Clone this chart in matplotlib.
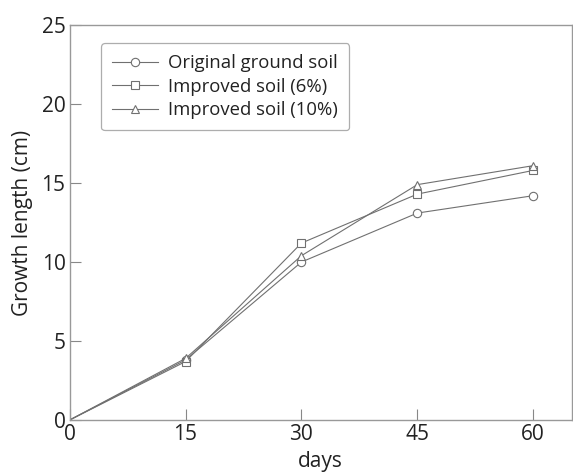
import matplotlib
matplotlib.use("Agg")
import matplotlib.pyplot as plt

days = [0, 15, 30, 45, 60]
original = [0, 3.8, 10.0, 13.1, 14.2]
improved_6 = [0, 3.7, 11.2, 14.3, 15.8]
improved_10 = [0, 3.9, 10.4, 14.9, 16.1]

plt.rcParams['font.family'] = ['Open Sans', 'DejaVu Sans']

fig = plt.figure(figsize=(5.73, 4.73), dpi=100)
ax = fig.add_axes([0.1215, 0.112, 0.8765, 0.835])

# no marker at the origin, only the measured days
style = dict(color='#707070', lw=0.8, markersize=6, markerfacecolor='white',
             markeredgecolor='#707070', markeredgewidth=0.8, markevery=[1, 2, 3, 4])
ax.plot(days, original, marker='o', label='Original ground soil', **style)
ax.plot(days, improved_6, marker='s', label='Improved soil (6%)', **style)
ax.plot(days, improved_10, marker='^', label='Improved soil (10%)', **style)

ax.set_xlim(0, 65)
ax.set_ylim(0, 25)
ax.set_xticks([0, 15, 30, 45, 60])
ax.set_yticks([0, 5, 10, 15, 20, 25])
ax.tick_params(direction='in', length=8, width=0.8, color='#888888',
               labelsize=15, pad=3, labelcolor='#222222')
for s in ax.spines.values():
    s.set_color('#999999')
    s.set_linewidth(1.0)

ax.set_xlabel('days', fontsize=15, labelpad=4, color='#222222')
ax.set_ylabel('Growth length (cm)', fontsize=15, labelpad=6, color='#222222')

leg = ax.legend(loc='upper left', bbox_to_anchor=(0.0625, 0.954), fontsize=13.3,
                frameon=True, fancybox=True, edgecolor='#999999',
                handlelength=2.5, handletextpad=0.55, labelspacing=0.3,
                borderpad=0.6, borderaxespad=0)
leg.get_frame().set_linewidth(0.9)
for t in leg.get_texts():
    t.set_color('#222222')

fig.savefig('out.png', dpi=100)
